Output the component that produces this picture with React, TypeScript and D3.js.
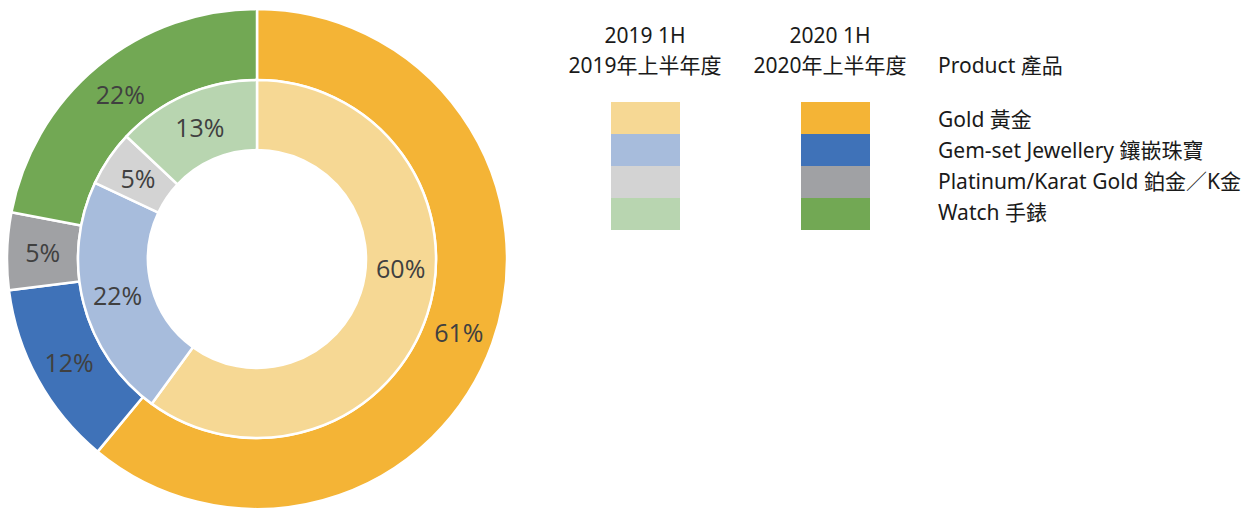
import React from "react";
import * as d3 from "d3";

const products = ["Gold 黃金", "Gem-set Jewellery 鑲嵌珠寶", "Platinum/Karat Gold 鉑金／K金", "Watch 手錶"];
const values2019 = [60, 22, 5, 13];
const values2020 = [61, 12, 5, 22];
const colors2019 = ["#F6D894", "#A7BCDC", "#D3D3D3", "#B8D5B0"];
const colors2020 = ["#F4B436", "#3F72B8", "#A0A1A4", "#72A854"];
const headers2019 = ["2019 1H", "2019年上半年度"];
const headers2020 = ["2020 1H", "2020年上半年度"];
const productHeader = "Product 產品";

const W = 1248;
const H = 512;
const cx = 257;
const cy = 259;
const rOuter = 250;
const rMid = 179;
const rInner = 109;

// Excel moved the 2019 gold label toward the right side of its slice
const innerLabelAngleOverride: Record<number, number> = { 0: 93.6 };

const labelFont = "'Open Sans', 'Noto Sans', sans-serif";
const legendFont = "'Noto Sans', 'Noto Sans CJK TC', sans-serif";

export default function App() {
  const pie = d3.pie<number>().sort(null).value((d) => d).startAngle(0).endAngle(2 * Math.PI);
  const outerArcs = pie(values2020);
  const innerArcs = pie(values2019);
  const outerArc = d3.arc<d3.PieArcDatum<number>>().innerRadius(rMid).outerRadius(rOuter);
  const innerArc = d3.arc<d3.PieArcDatum<number>>().innerRadius(rInner).outerRadius(rMid);

  const legendY = d3.scaleBand<number>().domain(d3.range(products.length)).range([102, 230]).padding(0);

  const innerLabelPos = (a: d3.PieArcDatum<number>, i: number): [number, number] => {
    if (innerLabelAngleOverride[i] !== undefined) {
      const ang = (innerLabelAngleOverride[i] * Math.PI) / 180;
      const r = (rInner + rMid) / 2;
      return [Math.sin(ang) * r, -Math.cos(ang) * r];
    }
    return innerArc.centroid(a) as [number, number];
  };

  return (
    <div style={{ position: "absolute", left: 0, top: 0 }}>
      <svg width={W} height={H} style={{ display: "block", background: "#fff" }}>
        <g transform={`translate(${cx},${cy})`}>
          {outerArcs.map((a, i) => (
            <path key={"o" + i} d={outerArc(a) || ""} fill={colors2020[i]} stroke="#fff" strokeWidth={2.5} />
          ))}
          {innerArcs.map((a, i) => (
            <path key={"i" + i} d={innerArc(a) || ""} fill={colors2019[i]} stroke="#fff" strokeWidth={2.5} />
          ))}
          {outerArcs.map((a, i) => {
            const [x, y] = outerArc.centroid(a);
            return (
              <text key={"ol" + i} x={x} y={y} textAnchor="middle" dominantBaseline="central"
                fontFamily={labelFont} fontSize={25} fill="#404040">
                {values2020[i]}%
              </text>
            );
          })}
          {innerArcs.map((a, i) => {
            const [x, y] = innerLabelPos(a, i);
            return (
              <text key={"il" + i} x={x} y={y} textAnchor="middle" dominantBaseline="central"
                fontFamily={labelFont} fontSize={25} fill="#404040">
                {values2019[i]}%
              </text>
            );
          })}
        </g>
        <g fontFamily={legendFont} fontSize={21} fill="#1a1a1a">
          {headers2019.map((t, i) => (
            <text key={"h19" + i} x={645} y={35 + i * 30} textAnchor="middle" dominantBaseline="central">{t}</text>
          ))}
          {headers2020.map((t, i) => (
            <text key={"h20" + i} x={830} y={35 + i * 30} textAnchor="middle" dominantBaseline="central">{t}</text>
          ))}
          <text x={938} y={65} dominantBaseline="central">{productHeader}</text>
          {products.map((p, i) => (
            <g key={"lg" + i}>
              <rect x={611} y={legendY(i)!} width={69} height={legendY.bandwidth()} fill={colors2019[i]} />
              <rect x={801} y={legendY(i)!} width={69} height={legendY.bandwidth()} fill={colors2020[i]} />
              <text x={938} y={119 + i * 31} dominantBaseline="central">{p}</text>
            </g>
          ))}
        </g>
      </svg>
    </div>
  );
}
